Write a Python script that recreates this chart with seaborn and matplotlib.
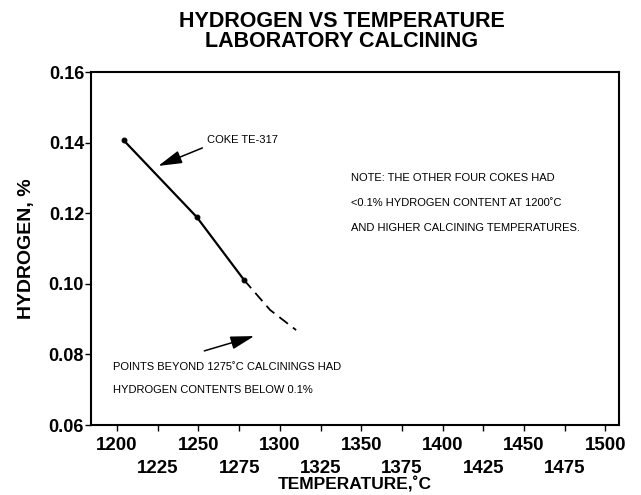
import numpy as np
import pandas as pd
import matplotlib
matplotlib.use("Agg")
import matplotlib.pyplot as plt
from matplotlib.ticker import FormatStrFormatter
import seaborn as sns

# --- data ---
temp_measured = [1204, 1249, 1278]
hydrogen_measured = [0.1407, 0.1189, 0.1011]
# extrapolated (dashed) part
temp_extrap = [1278, 1294, 1310]
hydrogen_extrap = [0.1011, 0.0926, 0.0869]

TITLE = "HYDROGEN VS TEMPERATURE\nLABORATORY CALCINING"
NOTE_LINES = [
    "NOTE: THE OTHER FOUR COKES HAD",
    "<0.1% HYDROGEN CONTENT AT 1200\u02daC",
    "AND HIGHER CALCINING TEMPERATURES.",
]
BOTTOM_LINES = [
    "POINTS BEYOND 1275\u02daC CALCININGS HAD",
    "HYDROGEN CONTENTS BELOW 0.1%",
]

sns.set_style("ticks")
plt.rcParams["font.family"] = ["Liberation Sans", "DejaVu Sans"]
# seaborn greys the text; the scan is plain black
plt.rcParams.update({"text.color": "black", "axes.labelcolor": "black",
                     "xtick.color": "black", "ytick.color": "black"})

df_meas = pd.DataFrame({"temp": temp_measured, "h": hydrogen_measured})
df_ext = pd.DataFrame({"temp": temp_extrap, "h": hydrogen_extrap})

fig = plt.figure(figsize=(6.41, 4.95), dpi=100)
ax = fig.add_axes([0.142, 0.1414, 0.824, 0.713])

sns.lineplot(data=df_meas, x="temp", y="h", ax=ax, color="black", lw=1.6,
             marker="o", markersize=3.5, markeredgecolor="black")
sns.lineplot(data=df_ext, x="temp", y="h", ax=ax, color="black", lw=1.3,
             linestyle=(0, (6, 3.5)))

ax.set_xlim(1184, 1508.5)
ax.set_ylim(0.06, 0.16)

# y axis
ax.set_yticks(np.arange(0.06, 0.161, 0.02))
ax.yaxis.set_major_formatter(FormatStrFormatter("%.2f"))
ax.tick_params(axis="y", labelsize=13, direction="out", length=4, width=1, pad=1)
for lab in ax.get_yticklabels():
    lab.set_fontweight("bold")

# x axis: staggered labels (major on top row, minor on second row)
ax.set_xticks(np.arange(1200, 1501, 50))
ax.set_xticks(np.arange(1225, 1500, 50), minor=True)
ax.xaxis.set_major_formatter(FormatStrFormatter("%d"))
ax.xaxis.set_minor_formatter(FormatStrFormatter("%d"))
ax.tick_params(axis="x", which="major", labelsize=13.5, direction="out",
               length=4, width=1, pad=4.5)
ax.tick_params(axis="x", which="minor", labelsize=13.5, direction="out",
               length=4, width=1, pad=21)
for lab in ax.get_xticklabels(which="both"):
    lab.set_fontweight("bold")

for side in ["top", "right", "left", "bottom"]:
    ax.spines[side].set_visible(True)
    ax.spines[side].set_linewidth(1.5)
    ax.spines[side].set_color("black")

ax.set_xlabel("TEMPERATURE,\u02daC", fontsize=12.5, fontweight="bold", labelpad=0)
ax.set_ylabel("HYDROGEN, %", fontsize=14, fontweight="bold", labelpad=10)
fig.suptitle(TITLE, fontsize=15.5, fontweight="bold", x=0.533, y=0.978,
             linespacing=0.92)

# annotations
arrow_kw = dict(arrowstyle="-|>,head_length=1.45,head_width=0.4",
                color="black", lw=1.1, shrinkA=0, shrinkB=0, mutation_scale=10)
ax.text(1255.5, 0.1407, "COKE TE-317", fontsize=8, va="center", ha="left")
ax.annotate("", xy=(1225.3, 0.1334), xytext=(1252.4, 0.1385),
            arrowprops=arrow_kw)
ax.annotate("", xy=(1284.3, 0.0852), xytext=(1253.6, 0.0810),
            arrowprops=arrow_kw)
for i, line in enumerate(BOTTOM_LINES):
    ax.text(1197.6, 0.0764 - i * 0.0065, line, fontsize=8, va="center",
            ha="left")
for i, line in enumerate(NOTE_LINES):
    ax.text(1344, 0.1300 - i * 0.0071, line, fontsize=8, va="center",
            ha="left")

fig.savefig("out.png", dpi=100)
